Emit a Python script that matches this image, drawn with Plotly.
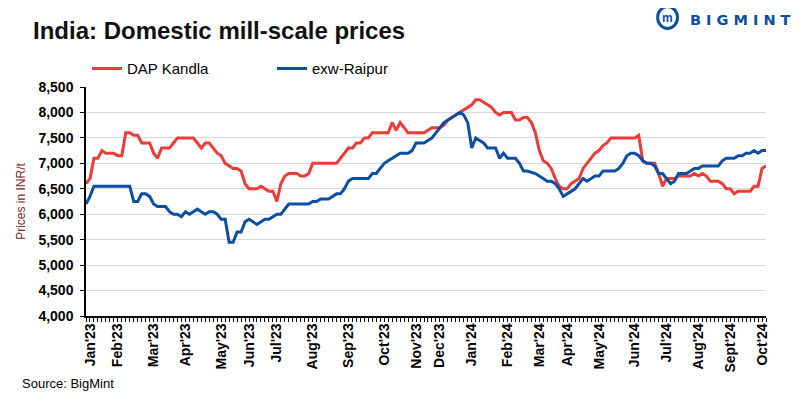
import plotly.graph_objects as go

# ---- data ----
month_labels = ["Jan'23", "Feb'23", "Mar'23", "Apr'23", "May'23", "Jun'23", "Jul'23", "Aug'23",
                "Sep'23", "Oct'23", "Nov'23", "Dec'23", "Jan'24", "Feb'24", "Mar'24", "Apr'24",
                "May'24", "Jun'24", "Jul'24", "Aug'24", "Sept'24", "Oct'24"]
month_idx = [1, 8, 17, 25, 34, 41, 48, 57, 66, 75, 83, 89, 97, 106, 114, 121, 129, 138, 146, 154, 162, 170]

dap_kandla = [
    6600, 6700, 7100, 7100, 7250, 7200, 7200, 7200, 7150, 7150,
    7600, 7600, 7550, 7550, 7400, 7400, 7400, 7200, 7100, 7300,
    7300, 7300, 7400, 7500, 7500, 7500, 7500, 7500, 7400, 7300,
    7400, 7400, 7300, 7200, 7150, 7000, 6950, 6900, 6900, 6850,
    6600, 6500, 6500, 6500, 6550, 6500, 6450, 6450, 6250, 6600,
    6750, 6800, 6800, 6800, 6750, 6750, 6800, 7000, 7000, 7000,
    7000, 7000, 7000, 7000, 7100, 7200, 7300, 7300, 7400, 7400,
    7500, 7500, 7600, 7600, 7600, 7600, 7600, 7800, 7650, 7800,
    7700, 7600, 7600, 7600, 7600, 7600, 7650, 7700, 7700, 7700,
    7750, 7850, 7900, 7950, 8000, 8050, 8100, 8150, 8250, 8250,
    8200, 8150, 8100, 8000, 7950, 8000, 8000, 8000, 7850, 7850,
    7900, 7900, 7800, 7600, 7250, 7050, 7000, 6900, 6700, 6550,
    6500, 6500, 6600, 6650, 6700, 6900, 7000, 7100, 7200, 7250,
    7350, 7400, 7500, 7500, 7500, 7500, 7500, 7500, 7500, 7550,
    7050, 7000, 7000, 7000, 6800, 6550, 6700, 6700, 6700, 6750,
    6750, 6750, 6750, 6800, 6750, 6800, 6750, 6650, 6650, 6650,
    6600, 6500, 6500, 6400, 6450, 6450, 6450, 6450, 6550, 6550,
    6900, 6950,
]

exw_raipur = [
    6200, 6350, 6550, 6550, 6550, 6550, 6550, 6550, 6550, 6550,
    6550, 6550, 6250, 6250, 6400, 6400, 6350, 6200, 6150, 6150,
    6150, 6050, 6000, 6000, 5950, 6050, 6000, 6050, 6100, 6050,
    6000, 6050, 6050, 6000, 5900, 5900, 5450, 5450, 5650, 5650,
    5850, 5900, 5850, 5800, 5850, 5900, 5900, 5950, 6000, 6000,
    6100, 6200, 6200, 6200, 6200, 6200, 6200, 6250, 6250, 6300,
    6300, 6300, 6350, 6400, 6400, 6500, 6650, 6700, 6700, 6700,
    6700, 6700, 6800, 6800, 6900, 7000, 7050, 7100, 7150, 7200,
    7200, 7200, 7250, 7400, 7400, 7400, 7450, 7500, 7600, 7700,
    7800, 7850, 7900, 7950, 8000, 7950, 7800, 7300, 7500, 7450,
    7400, 7300, 7300, 7300, 7100, 7200, 7100, 7100, 7100, 7000,
    6850, 6850, 6830, 6800, 6750, 6700, 6650, 6650, 6600, 6500,
    6350, 6400, 6450, 6500, 6600, 6700, 6650, 6700, 6750, 6750,
    6850, 6850, 6850, 6850, 6900, 7000, 7150, 7200, 7200, 7150,
    7050, 7000, 7000, 6950, 6800, 6800, 6700, 6600, 6650, 6800,
    6800, 6800, 6850, 6900, 6900, 6950, 6950, 6950, 6950, 6950,
    7050, 7100, 7100, 7100, 7150, 7150, 7200, 7200, 7250, 7200,
    7250, 7250,
]

y_ticks = [4000, 4500, 5000, 5500, 6000, 6500, 7000, 7500, 8000, 8500]

RED = "#EE3B37"
BLUE = "#0B4EA2"
FONT = "Liberation Sans, Arial, sans-serif"

x_idx = list(range(len(dap_kandla)))

fig = go.Figure()
fig.add_trace(go.Scatter(x=x_idx, y=dap_kandla, mode="lines", name="DAP Kandla",
                         line=dict(color=RED, width=3)))
fig.add_trace(go.Scatter(x=x_idx, y=exw_raipur, mode="lines", name="exw-Raipur",
                         line=dict(color=BLUE, width=3)))

# page has an 8px body margin: size/margins compensate so the plot area sits where the reference's does
fig.update_layout(
    width=797, height=391,
    margin=dict(l=74, r=39, t=79, b=83),
    paper_bgcolor="white", plot_bgcolor="white",
    font=dict(family=FONT, color="black"),
    showlegend=True,
    legend=dict(orientation="h", x=0.0015, xanchor="left", y=1.08, yanchor="middle",
                font=dict(size=15, family=FONT), entrywidth=140, entrywidthmode="pixels",
                itemwidth=30, bgcolor="rgba(0,0,0,0)", tracegroupgap=0),
    title=dict(text="<b>India: Domestic mill-scale prices</b>", x=0.0314, xanchor="left",
               y=0.941, yanchor="middle", font=dict(size=24, family=FONT, color="#111111")),
    xaxis=dict(
        range=[0, len(dap_kandla) - 1],
        tickmode="array", tickvals=month_idx, ticktext=[f"<b>{m}</b>" for m in month_labels],
        tickangle=-90, tickfont=dict(size=14, family=FONT, color="black"),
        ticks="", showgrid=False, zeroline=False,
        showline=True, linecolor="black", linewidth=1.5,
        minor=dict(ticks="outside", dtick=1, tick0=0, ticklen=4, tickcolor="black",
                   tickwidth=1, showgrid=False),
    ),
    yaxis=dict(
        range=[4000, 8500], tickmode="array", tickvals=y_ticks,
        ticktext=[f"<b>{v:,}</b>" for v in y_ticks],
        tickfont=dict(size=14, family=FONT, color="black"),
        ticks="outside", ticklen=4, tickcolor="black", ticklabelstandoff=4,
        showgrid=True, gridcolor="#D9D9D9", gridwidth=1, zeroline=False,
        showline=True, linecolor="black", linewidth=1.5,
        title=dict(text="Prices in INR/t", font=dict(size=12, family=FONT, color="#7A2A2A"),
                   standoff=10),
    ),
)

# source note
fig.add_annotation(text="Source: BigMint", xref="paper", yref="paper",
                   x=-0.097, y=-0.295, xanchor="left", yanchor="middle", showarrow=False,
                   font=dict(size=13, family=FONT, color="black"))

# logo (text + simple emblem)
fig.add_annotation(text="<b>B I G M I N T</b>", xref="paper", yref="paper",
                   x=1.0395, y=1.292, xanchor="right", yanchor="middle", showarrow=False,
                   font=dict(size=14.5, family="DejaVu Sans, sans-serif", color=BLUE))
fig.add_shape(type="circle", xref="paper", yref="paper",
              x0=(657 - 82) / 684, x1=(677 - 82) / 684,
              y0=(316.4 - 28) / 229.7, y1=(316.4 - 6) / 229.7,
              line=dict(color=BLUE, width=3), fillcolor="white")
fig.add_annotation(text="<b>m</b>", xref="paper", yref="paper",
                   x=(667 - 82) / 684, y=(316.4 - 17) / 229.7, xanchor="center", yanchor="middle",
                   showarrow=False, font=dict(size=12, family=FONT, color=BLUE))

fig.write_html("out.html")
